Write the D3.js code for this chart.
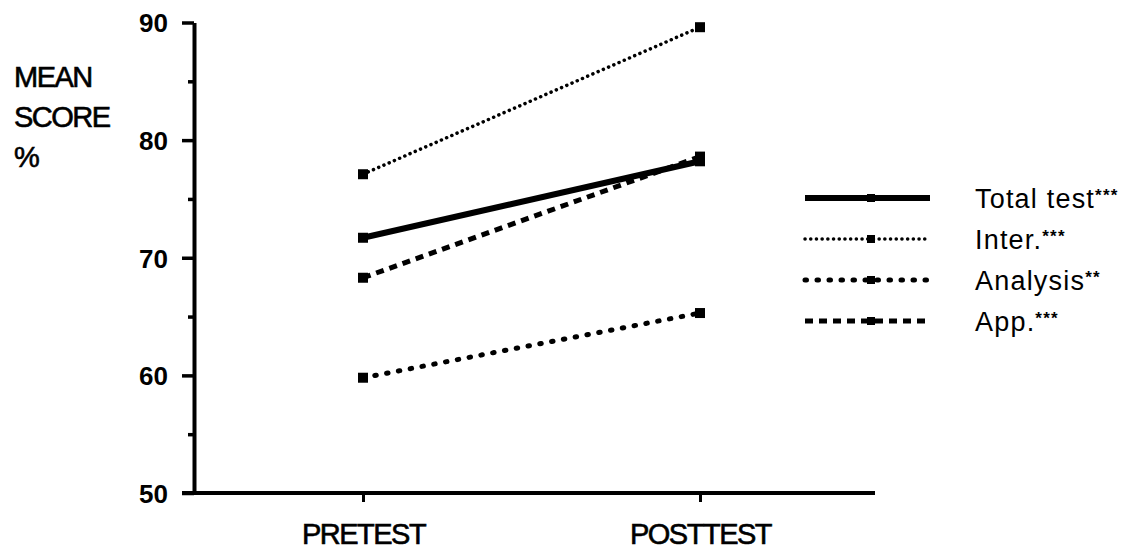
<!DOCTYPE html>
<html>
<head>
<meta charset="utf-8">
<script src="https://cdn.jsdelivr.net/npm/d3@7"></script>
<style>
  body { margin: 0; background: #fff; }
  text { font-family: "Liberation Sans", Arial, sans-serif; fill: #000; }
  .heavy { stroke: #000; stroke-width: 0.6px; }
</style>
</head>
<body>
<div id="chart"></div>
<script>
const phases = ["PRETEST", "POSTTEST"];
const seriesNames = ["Total test", "Inter.", "Analysis", "App."];
const signif = ["***", "***", "**", "***"];
const totalTest = [71.7, 78.2];
const inter = [77.1, 89.6];
const analysis = [59.8, 65.3];
const app = [68.3, 78.6];
const yTicks = [50, 60, 70, 80, 90];
const yMinorTicks = [55, 65, 75, 85];

const width = 1126, height = 551;

// line styles per series
const styles = [
    { w: 6, dash: null, cap: "butt" },
    { w: 3.5, dash: "0.1,5.6", cap: "round" },
    { w: 5, dash: "1.5,10.5", cap: "round" },
    { w: 5, dash: "8,6", cap: "butt" }
];

const series = [totalTest, inter, analysis, app].map((vals, i) => ({
    name: seriesNames[i],
    sig: signif[i],
    style: styles[i],
    values: vals.map((v, j) => ({ phase: phases[j], value: v }))
}));

const svg = d3.select("#chart")
    .append("svg")
    .attr("width", width)
    .attr("height", height);

const x = d3.scalePoint().domain(phases).range([363, 700]);
const y = d3.scaleLinear().domain([50, 90]).range([493, 22.5]);

// y axis
const yAxis = svg.append("g")
    .attr("transform", "translate(194,0)")
    .call(d3.axisLeft(y).tickValues(yTicks).tickSize(12).tickSizeOuter(0).tickPadding(14));
yAxis.select(".domain").attr("stroke-width", 4);
yAxis.selectAll(".tick line").attr("stroke-width", 3.5);
yAxis.selectAll(".tick text")
    .style("font-size", "26px")
    .style("font-weight", "bold")
    .attr("dy", "0.36em");

svg.append("g")
    .attr("transform", "translate(194,0)")
    .call(d3.axisLeft(y).tickValues(yMinorTicks).tickSize(6).tickFormat(""))
    .call(g => g.select(".domain").remove())
    .selectAll(".tick line").attr("stroke-width", 3.5);

// x axis
const xAxis = svg.append("g")
    .attr("transform", "translate(0,493)")
    .call(d3.axisBottom(x).tickSize(9).tickPadding(21));
xAxis.select(".domain").remove();
xAxis.selectAll(".tick line").attr("stroke-width", 3);
xAxis.selectAll(".tick text")
    .attr("class", "heavy")
    .style("font-size", "29px")
    .style("letter-spacing", "-1.5px")
    .attr("dy", "0.71em");

svg.append("line")
    .attr("x1", 182).attr("x2", 875)
    .attr("y1", 493).attr("y2", 493)
    .attr("stroke", "#000")
    .attr("stroke-width", 4);

// y title
svg.append("text")
    .attr("class", "heavy")
    .attr("x", 14)
    .attr("y", 87)
    .style("font-size", "29px")
    .style("letter-spacing", "-1.5px")
    .selectAll("tspan")
    .data(["MEAN", "SCORE", "%"])
    .enter()
    .append("tspan")
    .attr("x", 14)
    .attr("dy", (d, i) => i === 0 ? 0 : 40)
    .text(d => d);

// lines
const line = d3.line().x(d => x(d.phase)).y(d => y(d.value));

const lines = svg.append("g")
    .selectAll("g")
    .data(series)
    .enter()
    .append("g");

lines.append("path")
    .attr("d", d => line(d.values))
    .attr("fill", "none")
    .attr("stroke", "#000")
    .attr("stroke-width", d => d.style.w)
    .attr("stroke-dasharray", d => d.style.dash)
    .attr("stroke-linecap", d => d.style.cap);

lines.selectAll("rect")
    .data(d => d.values)
    .enter()
    .append("rect")
    .attr("x", d => x(d.phase) - 5)
    .attr("y", d => y(d.value) - 5)
    .attr("width", 10)
    .attr("height", 10)
    .attr("fill", "#000");

// legend
const legend = svg.append("g")
    .selectAll("g")
    .data(series)
    .enter()
    .append("g")
    .attr("transform", (d, i) => "translate(805," + (198 + i * 41) + ")");

legend.append("line")
    .attr("x1", 0).attr("x2", 125)
    .attr("stroke", "#000")
    .attr("stroke-width", d => d.style.w)
    .attr("stroke-dasharray", d => d.style.dash)
    .attr("stroke-linecap", d => d.style.cap);

legend.append("rect")
    .attr("x", 62).attr("y", -4)
    .attr("width", 8).attr("height", 8)
    .attr("fill", "#000");

const lt = legend.append("text")
    .attr("x", 170)
    .attr("dy", "0.36em")
    .style("font-size", "27px")
    .style("letter-spacing", "1.2px");
lt.append("tspan").text(d => d.name);
lt.append("tspan")
    .attr("dy", "-0.4em")
    .style("font-size", "17px")
    .style("font-weight", "bold")
    .text(d => d.sig);
</script>
</body>
</html>
